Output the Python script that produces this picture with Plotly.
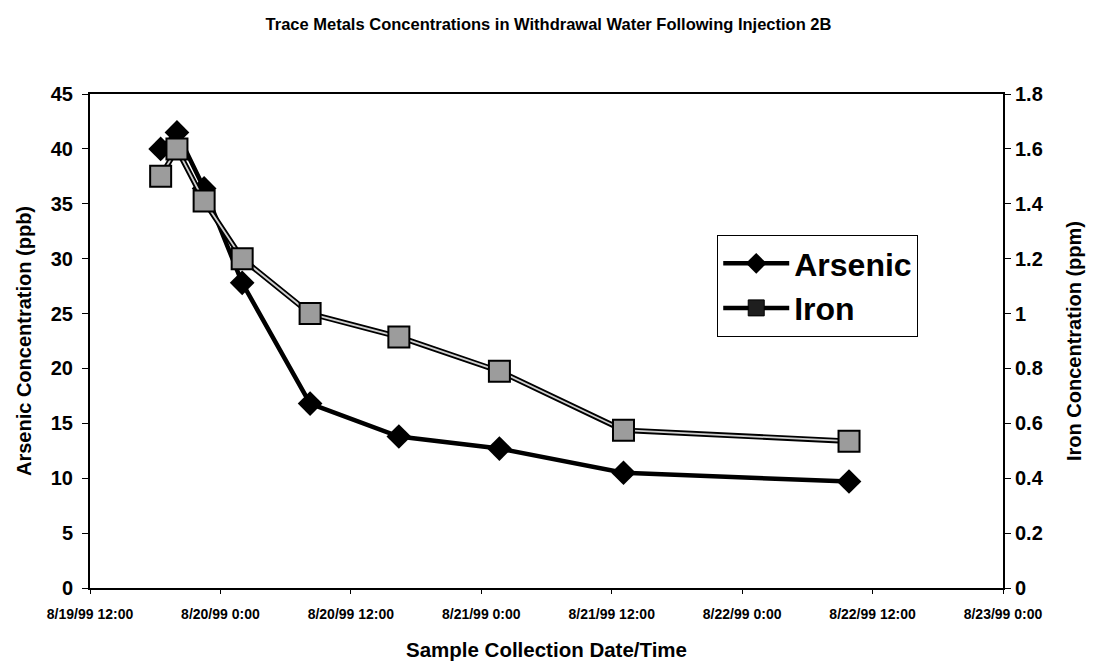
import plotly.graph_objects as go

# Sample collection times
times = [
    "1999-08-19 18:30", "1999-08-19 20:00", "1999-08-19 22:30",
    "1999-08-20 02:00", "1999-08-20 08:15", "1999-08-20 16:25",
    "1999-08-21 01:40", "1999-08-21 13:05", "1999-08-22 09:50",
]
arsenic_ppb = [40.0, 41.5, 36.4, 27.8, 16.8, 13.8, 12.7, 10.5, 9.7]
iron_ppm = [1.50, 1.60, 1.41, 1.20, 1.00, 0.915, 0.79, 0.575, 0.535]

FONT = "Liberation Sans, Arial, sans-serif"
IRON_FILL = "#9c9c9c"

fig = go.Figure()

# Arsenic
fig.add_trace(go.Scatter(
    x=times, y=arsenic_ppb, mode="lines+markers", name="Arsenic",
    line=dict(color="black", width=4.5),
    marker=dict(symbol="diamond", size=19, color="black")))

# Iron: double line (black casing, grey core), then square markers on top
fig.add_trace(go.Scatter(
    x=times, y=iron_ppm, yaxis="y2", mode="lines",
    line=dict(color="black", width=5.5), showlegend=False, hoverinfo="skip"))
fig.add_trace(go.Scatter(
    x=times, y=iron_ppm, yaxis="y2", mode="lines",
    line=dict(color="#d0d0d0", width=1.8), showlegend=False, hoverinfo="skip"))
fig.add_trace(go.Scatter(
    x=times, y=iron_ppm, yaxis="y2", mode="markers", name="Iron",
    marker=dict(symbol="square", size=21, color=IRON_FILL,
                line=dict(color="black", width=2)),
    showlegend=False))

# Legend entry for iron
fig.add_trace(go.Scatter(
    x=[None], y=[None], yaxis="y2", mode="lines+markers", name="Iron",
    line=dict(color="black", width=4.5),
    marker=dict(symbol="square", size=20, color="#1e1e1e",
                line=dict(color="black", width=1))))

fig.update_layout(
    width=1097, height=663,
    margin=dict(l=90, r=94, t=94, b=75, autoexpand=False),
    paper_bgcolor="white", plot_bgcolor="white",
    font=dict(family=FONT, color="black"),
    title=dict(
        text="<b>Trace Metals Concentrations in Withdrawal Water Following Injection 2B</b>",
        x=0.5, xanchor="center", y=0.964, yanchor="middle",
        font=dict(size=16.5, family=FONT)),
    xaxis=dict(
        type="date", automargin=False,
        range=["1999-08-19 12:00", "1999-08-23 00:00"],
        dtick=12 * 3600 * 1000, tick0="1999-08-19 12:00",
        tickformat="%-m/%-d/%y %-H:%M",
        showgrid=False, zeroline=False,
        showline=True, linecolor="black", linewidth=2, mirror=True,
        ticks="outside", ticklen=4, tickcolor="black",
        ticklabelstandoff=8,
        tickfont=dict(size=14, family=FONT, weight="bold"),
        title=dict(text="<b>Sample Collection Date/Time</b>",
                   font=dict(size=20.5, family=FONT), standoff=22),
    ),
    yaxis=dict(
        range=[0, 45], dtick=5, automargin=False,
        showgrid=False, zeroline=False,
        showline=True, linecolor="black", linewidth=2,
        ticks="outside", ticklen=6, tickcolor="black",
        ticklabelstandoff=5,
        tickfont=dict(size=20, family=FONT, weight="bold"),
        title=dict(text="<b>Arsenic Concentration (ppb)</b>",
                   font=dict(size=20, family=FONT), standoff=14),
    ),
    yaxis2=dict(
        range=[0, 1.8], dtick=0.2, overlaying="y", side="right",
        automargin=False,
        showgrid=False, zeroline=False,
        showline=True, linecolor="black", linewidth=2,
        ticks="outside", ticklen=6, tickcolor="black",
        ticklabelstandoff=0,
        tickfont=dict(size=20, family=FONT, weight="bold"),
        title=dict(text="<b>Iron Concentration (ppm)</b>",
                   font=dict(size=20, family=FONT), standoff=24),
    ),
    legend=dict(
        x=0.687, y=0.7146, xanchor="left", yanchor="top",
        bgcolor="white", bordercolor="black", borderwidth=1,
        font=dict(size=32, family=FONT, weight="bold"),
        itemwidth=66, tracegroupgap=0,
    ),
)

fig.write_html("out.html")
